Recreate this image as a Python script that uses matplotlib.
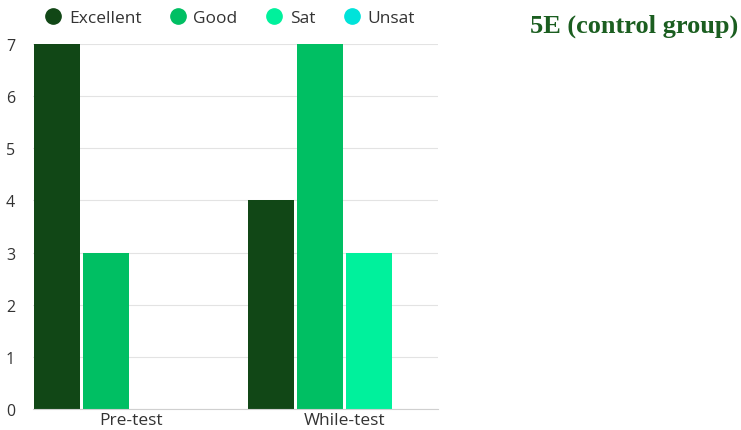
import matplotlib
matplotlib.use("Agg")
import matplotlib.pyplot as plt
import numpy as np
from matplotlib.lines import Line2D

categories = ["Pre-test", "While-test"]
series_names = ["Excellent", "Good", "Sat", "Unsat"]
excellent = [7, 4]
good = [3, 7]
sat = [0, 3]
unsat = [0, 0]
values = [excellent, good, sat, unsat]
colors = ["#114716", "#00BF63", "#00F19C", "#00E3DA"]
yticks = [0, 1, 2, 3, 4, 5, 6, 7]

plt.rcParams['font.family'] = ['Open Sans', 'DejaVu Sans']

fig = plt.figure(figsize=(7.41, 4.31), dpi=100)
ax = fig.add_axes([33/741, 1-410/431, (438-33)/741, (410-45)/431])

x = np.arange(len(categories))
step = 0.229
width = 0.215
for i, (name, vals, c) in enumerate(zip(series_names, values, colors)):
    offs = (i - 1.5) * step
    ax.bar(x + offs, vals, width=width, color=c, zorder=3)

ax.set_xlim(-0.458, 1.435)
ax.set_ylim(0, 7)
ax.set_yticks(yticks)
ax.set_yticklabels([str(t) for t in yticks], fontsize=11.5, color="#333333")
ax.set_xticks(x)
ax.set_xticklabels(categories, fontsize=12.5, color="#333333")
ax.tick_params(axis='both', length=0)
ax.tick_params(axis='y', pad=13)
ax.tick_params(axis='x', pad=2)
ax.grid(axis='y', color="#e3e3e3", linewidth=0.8, zorder=0)
for s in ["top", "right", "left"]:
    ax.spines[s].set_visible(False)
ax.spines["bottom"].set_color("#d0d0d0")
ax.spines["bottom"].set_zorder(4)

handles = [Line2D([0], [0], marker='o', color='none', markerfacecolor=c,
                  markeredgecolor=c, markersize=11) for c in colors]
fig.legend(handles, series_names, loc='center left', ncol=4,
           bbox_to_anchor=(41/741, 1-19/431), frameon=False, fontsize=12.5,
           handletextpad=0.2, columnspacing=1.4, labelcolor="#333333",
           borderaxespad=0, borderpad=0, handlelength=1.4)

fig.text(634/741, 1-26/431, "5E (control group)", fontsize=19, fontweight='bold',
         family='Liberation Serif', color="#1B5E20", ha='center', va='center')

fig.savefig("out.png", dpi=100)
